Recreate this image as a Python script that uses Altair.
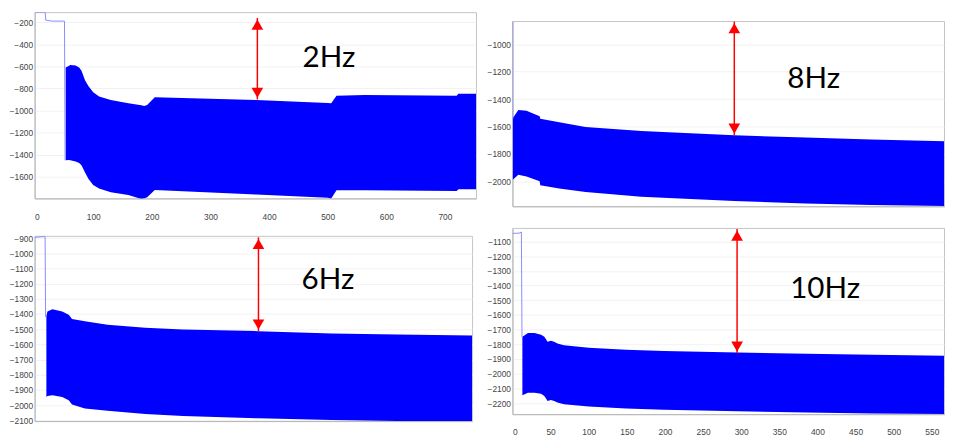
import altair as alt
import pandas as pd

# ---------------- 2 Hz (top-left) ----------------
hz2_x = [53, 58, 61, 70, 76, 80, 86, 92, 100, 110, 130, 160, 182, 187, 192, 205, 378, 500, 506, 515, 563, 720, 723, 753]
hz2_top = [-610, -598, -588, -592, -610, -640, -725, -780, -835, -872, -905, -935, -952, -958, -950, -880, -905, -933, -935, -866, -860, -866, -848, -848]
hz2_bot = [-1450, -1448, -1450, -1462, -1475, -1495, -1560, -1620, -1675, -1705, -1740, -1765, -1800, -1795, -1785, -1720, -1760, -1790, -1795, -1722, -1722, -1728, -1712, -1712]
hz2_pre_x = [0, 18, 19, 30, 51, 52]
hz2_pre_y = [-111, -111, -182, -191, -191, -1450]
hz2_arrow = [380, -162, -900]
hz2_label = ["2Hz", 502, -525]
hz2_xdom = [0, 753]
hz2_ydom = [-1795, -110]
hz2_xticks = [0, 100, 200, 300, 400, 500, 600, 700]
hz2_yticks = [-200, -400, -600, -800, -1000, -1200, -1400, -1600]

# ---------------- 8 Hz (top-right) ----------------
hz8_x = [36.6, 47.6, 63.8, 89.8, 91, 128.6, 180.6, 291, 475, 616, 746, 892]
hz8_top = [-1540, -1479, -1484, -1525, -1544, -1568, -1604, -1633, -1664, -1681, -1695, -1707]
hz8_bot = [-1988, -1952, -1964, -2000, -2029, -2053, -2077, -2113, -2144, -2161, -2173, -2180]
hz8_pre_x = [36.3, 36.6]
hz8_pre_y = [-832, -1545]
hz8_arrow = [475, -834, -1664]
hz8_label = ["8Hz", 632, -1256]
hz8_xdom = [36, 890]
hz8_ydom = [-2182, -830]
hz8_xticks = [100, 200, 300, 400, 500, 600, 700, 800]
hz8_yticks = [-1000, -1200, -1400, -1600, -1800, -2000]

# ---------------- 6 Hz (bottom-left) ----------------
hz6_x = [19, 20.4, 27, 40, 48.6, 53, 70, 100, 150, 200, 300, 397, 484, 583]
hz6_top = [-1415, -1383, -1368, -1383, -1405, -1433, -1448, -1470, -1491, -1502, -1513, -1529, -1535, -1541]
hz6_bot = [-1946, -1940, -1935, -1946, -1968, -1996, -2022, -2037, -2059, -2072, -2087, -2098, -2104, -2105]
hz6_pre_x = [3.4, 16, 17.3, 18]
hz6_pre_y = [-895, -890, -890, -1420]
hz6_arrow = [300, -895, -1513]
hz6_label = ["6Hz", 392, -1177]
hz6_xdom = [3.4, 583]
hz6_ydom = [-2105, -885]
hz6_xticks = [50, 100, 150, 200, 250, 300, 350, 400, 450, 500, 550]
hz6_yticks = [-900, -1000, -1100, -1200, -1300, -1400, -1500, -1600, -1700, -1800, -1900, -2000, -2100]

# ---------------- 10 Hz (bottom-right) ----------------
hz10_x = [13, 16, 20.3, 28.9, 37.5, 41.8, 46.1, 50.4, 54.7, 59, 67.6, 100, 149, 199, 295, 386, 472, 569]
hz10_top = [-1749, -1738, -1723, -1723, -1734, -1749, -1783, -1776, -1783, -1794, -1806, -1824, -1837, -1846, -1855, -1864, -1871, -1878]
hz10_bot = [-2146, -2140, -2129, -2129, -2136, -2151, -2185, -2178, -2185, -2196, -2207, -2223, -2236, -2245, -2256, -2263, -2270, -2274]
hz10_pre_x = [0, 10, 11, 11.7, 12.5]
hz10_pre_y = [-1045, -1043, -1036, -1036, -1750]
hz10_arrow = [294.6, -1015, -1861]
hz10_label = ["10Hz", 410, -1426]
hz10_xdom = [0, 566]
hz10_ydom = [-2275, -1008]
hz10_xticks = [0, 50, 100, 150, 200, 250, 300, 350, 400, 450, 500, 550]
hz10_yticks = [-1100, -1200, -1300, -1400, -1500, -1600, -1700, -1800, -1900, -2000, -2100, -2200]


def build(x, top, bot, pre_x, pre_y, arrow, label, xdom, ydom, xticks, yticks,
          width, height, xlabels):
    band_df = pd.DataFrame({"x": x, "top": top, "bot": bot})
    pre_df = pd.DataFrame({"x": pre_x, "y": pre_y, "o": list(range(len(pre_x)))})
    arrow_df = pd.DataFrame({"x": [arrow[0]], "top": [arrow[1]], "bot": [arrow[2]]})
    label_df = pd.DataFrame({"t": [label[0]], "x": [label[1]], "y": [label[2]]})

    xs = alt.Scale(domain=xdom, nice=False, zero=False)
    ys = alt.Scale(domain=ydom, nice=False, zero=False)
    xa = alt.Axis(values=xticks, labels=xlabels, ticks=False, grid=False, format="d",
                  labelPadding=14, labelFontSize=8.5, labelColor="#444444",
                  labelFont="Liberation Sans", domainColor="#b8b8b8", title=None)
    ya = alt.Axis(values=yticks, ticks=False, grid=True, gridColor="#f2f2f2", format="d",
                  labelPadding=2, labelFontSize=8.5, labelColor="#444444", minExtent=0,
                  labelFont="Liberation Sans", domainColor="#b8b8b8", title=None)

    X = lambda f: alt.X(f, scale=xs, axis=xa)
    Y = lambda f: alt.Y(f, scale=ys, axis=ya)

    band = alt.Chart(band_df).mark_area(color="#0000ff", clip=True, interpolate="linear").encode(
        x=X("x:Q"), y=Y("top:Q"), y2="bot:Q")
    pre = alt.Chart(pre_df).mark_line(color="#8a8aff", strokeWidth=1, clip=True).encode(
        x=X("x:Q"), y=Y("y:Q"), order="o:Q")
    rule = alt.Chart(arrow_df).mark_rule(color="#ff0000", strokeWidth=1.5).encode(
        x=X("x:Q"), y=Y("top:Q"), y2="bot:Q")
    head_up = alt.Chart(arrow_df).mark_point(shape="triangle-up", filled=True, color="#ff0000",
                                             size=140, opacity=1, yOffset=6.8).encode(
        x=X("x:Q"), y=Y("top:Q"))
    head_dn = alt.Chart(arrow_df).mark_point(shape="triangle-down", filled=True, color="#ff0000",
                                             size=140, opacity=1, yOffset=-6.8).encode(
        x=X("x:Q"), y=Y("bot:Q"))
    text = alt.Chart(label_df).mark_text(font="Lato", fontSize=30, color="#000000").encode(
        x=X("x:Q"), y=Y("y:Q"), text="t:N")
    return alt.layer(band, pre, rule, head_up, head_dn, text).properties(width=width, height=height)


p1 = build(hz2_x, hz2_top, hz2_bot, hz2_pre_x, hz2_pre_y, hz2_arrow, hz2_label,
           hz2_xdom, hz2_ydom, hz2_xticks, hz2_yticks, 448, 189, True)
p2 = build(hz8_x, hz8_top, hz8_bot, hz8_pre_x, hz8_pre_y, hz8_arrow, hz8_label,
           hz8_xdom, hz8_ydom, hz8_xticks, hz8_yticks, 438, 188, False)
p3 = build(hz6_x, hz6_top, hz6_bot, hz6_pre_x, hz6_pre_y, hz6_arrow, hz6_label,
           hz6_xdom, hz6_ydom, hz6_xticks, hz6_yticks, 444, 188, False)
p4 = build(hz10_x, hz10_top, hz10_bot, hz10_pre_x, hz10_pre_y, hz10_arrow, hz10_label,
           hz10_xdom, hz10_ydom, hz10_xticks, hz10_yticks, 438, 189, True)

# invisible spacer (no scales, no extent) that pushes the right column down a little
spacer = alt.Chart(pd.DataFrame({"a": [0]})).mark_point(opacity=0, size=1).encode(
    x=alt.value(0), y=alt.value(3)
).properties(width=1, height=7, view=alt.ViewBackground(stroke="transparent"))

left = alt.vconcat(p1, p3, spacing=12)
right = alt.vconcat(spacer, alt.vconcat(p2, p4, spacing=20), spacing=0)

chart = alt.hconcat(left, right, spacing=9).properties(
    padding={"left": 0, "top": 0, "right": 0, "bottom": 0},
    background="white",
).configure_view(stroke="#c4c4c4", strokeWidth=1)

chart.save("out.html", embed_options={"renderer": "svg", "actions": False})
